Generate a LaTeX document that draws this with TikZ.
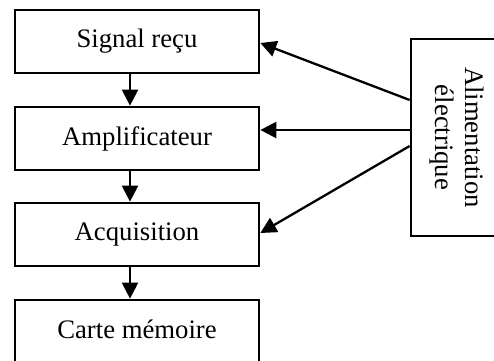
\documentclass[tikz,border=0pt]{standalone}
\usepackage{fontspec}
\setmainfont{Liberation Serif}
\usetikzlibrary{arrows.meta}
\begin{document}
\begin{tikzpicture}[x=1bp,y=-1bp,
  blk/.style={draw=black, line width=2.7bp, fill=white, minimum width=244bp, minimum height=63bp, inner sep=0pt,
    font=\fontsize{26.7bp}{30bp}\selectfont},
  pwr/.style={draw=black, line width=2.7bp, fill=white, minimum width=94bp, minimum height=197bp, inner sep=0pt},
  arr/.style={line width=2.3bp, -{Triangle[length=16bp,width=16bp]}}]
\useasboundingbox (0,0) rectangle (494,360);
\clip (0,0) rectangle (494,360);
\node[blk] (b1) at (137,41.5) {Signal reçu};
\node[blk] (b2) at (137,138.5) {Amplificateur};
\node[blk] (b3) at (137,234.5) {Acquisition};
\node[blk] (b4) at (137,331.5) {\raisebox{5bp}{Carte mémoire}};
\node[pwr] (pw) at (458,137.5) {};
\node[rotate=-90, align=center, font=\fontsize{26.7bp}{30bp}\selectfont] (pt) at (457,137.5) {Alimentation\\électrique};
\draw[arr] ([xshift=-7bp]b1.south) -- ([xshift=-7bp]b2.north);
\draw[arr] ([xshift=-7bp]b2.south) -- ([xshift=-7bp]b3.north);
\draw[arr] ([xshift=-7bp]b3.south) -- ([xshift=-7bp]b4.north);
\draw[arr] ([yshift=37.5bp]pw.west) -- ([yshift=-1.5bp]b1.east);
\draw[arr] ([yshift=7.5bp]pw.west) -- ([yshift=8.5bp]b2.east);
\draw[arr] ([yshift=-8.5bp]pw.west) -- ([yshift=1.5bp]b3.east);
\end{tikzpicture}
\end{document}
